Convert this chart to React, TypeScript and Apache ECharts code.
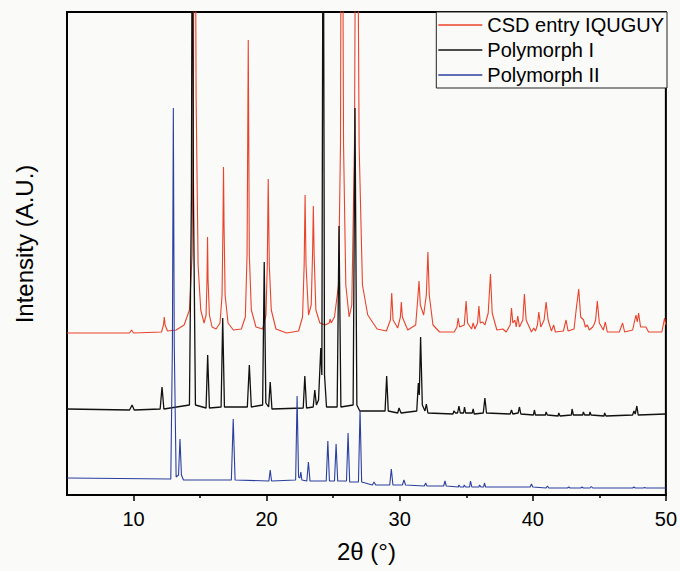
import React, { useEffect, useRef } from "react";
import * as echarts from "echarts";

const seriesNames = ["CSD entry IQUGUY", "Polymorph I", "Polymorph II"];
const xMajorTicks = [10, 20, 30, 40, 50];
const xMinorTicks = [15, 25, 35, 45];

// CSD entry IQUGUY (simulated pattern), offset baseline ~162
const csdPattern: number[][] = [
  [5, 162], [9.7, 162], [9.85, 165], [10.0, 162], [12.1, 163], [12.25, 170], [12.31, 178], [12.37, 170], [12.55, 164],
  [13.2, 165], [13.8, 170], [14.2, 185], [14.4, 240], [14.5, 400], [14.56, 700], [14.62, 700], [14.7, 400], [14.85, 230],
  [15.05, 185], [15.3, 172], [15.45, 180], [15.52, 215], [15.56, 258], [15.6, 215], [15.7, 180], [15.9, 168], [16.2, 166],
  [16.5, 172], [16.65, 200], [16.72, 270], [16.76, 328], [16.8, 270], [16.88, 200], [17.1, 172], [17.5, 165], [18.1, 166],
  [18.4, 178], [18.53, 240], [18.62, 455], [18.7, 240], [18.85, 185], [19.2, 168], [19.7, 166], [19.95, 180], [20.05, 230],
  [20.12, 316], [20.2, 230], [20.35, 185], [20.7, 166], [21.5, 162], [22.4, 164], [22.7, 178], [22.82, 230], [22.89, 300],
  [22.96, 230], [23.15, 180], [23.35, 190], [23.45, 240], [23.51, 289], [23.57, 240], [23.7, 185], [24.0, 172], [24.4, 170],
  [24.7, 172], [24.77, 176], [24.85, 172], [25.1, 178], [25.4, 210], [25.55, 350], [25.62, 700], [25.68, 700], [25.78, 350],
  [25.95, 210], [26.2, 178], [26.4, 190], [26.6, 350], [26.72, 700], [26.8, 700], [26.95, 350], [27.2, 210], [27.6, 180],
  [28.3, 166], [29.0, 164], [29.3, 175], [29.4, 202], [29.5, 175], [29.85, 167], [30.05, 178], [30.12, 193], [30.2, 178],
  [30.6, 165], [31.2, 170], [31.35, 195], [31.45, 214], [31.55, 190], [31.8, 180], [32.0, 200], [32.12, 243], [32.22, 200],
  [32.5, 170], [33.0, 163], [34.1, 163], [34.3, 168], [34.39, 177], [34.5, 168], [34.85, 170], [34.99, 194], [35.1, 172],
  [35.4, 166], [35.52, 172], [35.65, 166], [35.85, 172], [35.95, 189], [36.05, 172], [36.24, 173], [36.4, 170], [36.65, 182],
  [36.82, 221], [36.95, 182], [37.3, 165], [37.75, 166], [38.0, 163], [38.3, 170], [38.4, 187], [38.5, 172], [38.65, 175],
  [38.76, 168], [38.87, 179], [39.0, 168], [39.25, 175], [39.37, 201], [39.5, 175], [39.9, 163], [40.07, 167], [40.2, 164],
  [40.35, 170], [40.45, 183], [40.6, 168], [40.85, 175], [41.0, 193], [41.15, 175], [41.4, 164], [41.57, 170], [41.7, 163],
  [42.3, 164], [42.5, 175], [42.65, 164], [43.1, 166], [43.3, 190], [43.35, 195], [43.45, 206], [43.6, 178], [43.82, 175],
  [43.95, 168], [44.1, 170], [44.25, 165], [44.5, 168], [44.62, 171], [44.72, 175], [44.85, 194], [45.0, 172], [45.3, 165],
  [45.45, 173], [45.6, 163], [46.5, 163], [46.75, 172], [46.9, 163], [47.5, 165], [47.75, 180], [47.85, 173], [47.95, 182],
  [48.1, 168], [48.5, 168], [48.7, 163], [49.7, 163], [49.9, 177], [50, 170],
];

// Polymorph I (measured), offset baseline ~85
const polymorph1: number[][] = [
  [5, 86], [9.7, 85], [9.89, 90], [10.05, 85], [12.0, 86], [12.14, 108], [12.28, 86], [14.2, 90], [14.35, 300], [14.42, 700],
  [14.5, 300], [14.65, 90], [15.45, 87], [15.57, 140], [15.7, 87], [16.58, 88], [16.7, 177], [16.83, 88], [18.55, 88],
  [18.7, 130], [18.85, 88], [19.7, 90], [19.82, 233], [19.94, 92], [20.15, 88], [20.27, 113], [20.4, 86], [22.75, 87],
  [22.87, 119], [23.0, 87], [23.5, 88], [23.62, 105], [23.74, 90], [23.9, 95], [24.07, 147], [24.15, 120], [24.25, 700],
  [24.35, 120], [24.5, 88], [25.3, 88], [25.44, 269], [25.58, 88], [26.5, 90], [26.64, 387], [26.78, 90], [27, 84],
  [28.9, 84], [29.02, 119], [29.14, 84], [29.85, 82], [29.95, 87], [30.1, 82], [31.28, 84], [31.4, 112], [31.47, 100],
  [31.57, 158], [31.7, 90], [31.9, 84], [32.0, 91], [32.12, 82], [34.0, 81], [34.07, 84], [34.2, 82], [34.35, 82],
  [34.45, 89], [34.55, 82], [34.8, 82], [34.87, 88], [34.95, 82], [35.45, 82], [35.52, 86], [35.6, 81], [36.28, 82],
  [36.4, 97], [36.52, 82], [38.3, 81], [38.4, 85], [38.5, 81], [38.9, 82], [39.0, 88], [39.1, 81], [40.05, 80], [40.12, 85],
  [40.2, 80], [40.95, 80], [41.0, 83], [41.1, 80], [41.9, 79], [41.95, 82], [42.05, 79], [42.9, 80], [42.95, 86], [43.05, 80],
  [43.75, 80], [43.8, 83], [43.9, 80], [44.25, 80], [44.3, 83], [44.38, 80], [45.35, 79], [45.4, 82], [45.5, 79], [47.5, 80],
  [47.6, 84], [47.7, 81], [47.82, 89], [47.92, 80], [50, 81],
];

// Polymorph II (measured), offset baseline ~15
const polymorph2: number[][] = [
  [5, 17], [12.8, 16], [12.92, 150], [12.99, 387], [13.06, 150], [13.2, 18], [13.38, 20], [13.49, 56], [13.6, 20], [13.75, 15],
  [17.35, 15], [17.49, 76], [17.63, 15], [20.17, 14], [20.27, 25], [20.37, 14], [22.18, 15], [22.29, 99], [22.4, 18],
  [22.5, 17], [22.57, 23], [22.65, 15], [23.02, 14], [23.14, 33], [23.26, 14], [24.48, 14], [24.6, 54], [24.72, 14],
  [25.1, 14], [25.22, 51], [25.34, 14], [26.0, 14], [26.12, 62], [26.24, 13], [26.9, 13], [27.02, 85], [27.14, 13],
  [27.95, 10], [28.07, 13], [28.2, 10], [29.25, 10], [29.37, 26], [29.49, 10], [30.2, 10], [30.32, 15], [30.44, 10],
  [31.85, 9], [31.95, 12], [32.05, 9], [33.3, 9], [33.4, 14], [33.5, 9], [34.4, 8], [34.45, 10], [34.55, 8], [34.8, 8],
  [34.85, 10], [34.95, 8], [35.25, 8], [35.32, 14], [35.42, 8], [35.95, 8], [36.0, 10], [36.1, 8], [36.3, 8], [36.37, 12],
  [36.45, 8], [39.8, 8], [39.9, 11], [40.0, 8], [41.0, 7], [41.1, 9], [41.2, 7], [42.6, 7], [42.7, 8], [42.8, 7], [43.6, 7],
  [43.7, 8], [43.8, 7], [44.3, 7], [44.4, 8.5], [44.5, 7], [47.5, 7], [47.6, 8], [47.7, 7], [48.3, 7], [48.4, 7.5],
  [48.5, 7], [50, 7],
];

const seriesData = [csdPattern, polymorph1, polymorph2];
const seriesColors = ["#e8432b", "#111111", "#2b3f9f"];

const FONT = "Liberation Sans, Arial, sans-serif";

export default function App() {
  const ref = useRef<HTMLDivElement>(null);
  useEffect(() => {
    if (!ref.current) return;
    const chart = echarts.init(ref.current, undefined, { renderer: "svg" });
    chart.setOption({
      animation: false,
      backgroundColor: "#fafaf8",
      grid: {
        left: 67,
        right: 13,
        top: 12,
        bottom: 76,
        show: true,
        borderColor: "#000",
        borderWidth: 2,
        backgroundColor: "transparent",
      },
      legend: {
        data: seriesNames,
        orient: "vertical",
        right: 13,
        top: 12,
        icon: "rect",
        itemWidth: 44,
        itemHeight: 1.5,
        itemGap: 5,
        padding: [3, 3, 3, 2],
        borderColor: "#222",
        borderWidth: 1,
        backgroundColor: "#fafaf8",
        textStyle: { fontSize: 20, color: "#000", fontFamily: FONT },
      },
      xAxis: [
        {
          type: "value",
          min: 5,
          max: 50,
          position: "bottom",
          axisLine: { show: true, onZero: false, lineStyle: { color: "#000", width: 2 } },
          axisTick: { show: true, customValues: xMajorTicks, length: 6, lineStyle: { color: "#000", width: 1.5 } },
          axisLabel: { show: true, customValues: xMajorTicks, fontSize: 20, color: "#000", margin: 14, fontFamily: FONT },
          splitLine: { show: false },
          name: "2θ (°)",
          nameLocation: "middle",
          nameGap: 44,
          nameTextStyle: { fontSize: 24, color: "#000", fontFamily: FONT },
        },
        {
          type: "value",
          min: 5,
          max: 50,
          position: "bottom",
          axisLine: { show: false, onZero: false },
          axisTick: { show: true, customValues: xMinorTicks, length: 3, lineStyle: { color: "#000", width: 1.5 } },
          axisLabel: { show: false },
          splitLine: { show: false },
        },
      ],
      yAxis: {
        type: "value",
        min: 0,
        max: 483,
        axisLine: { show: true, onZero: false, lineStyle: { color: "#000", width: 2 } },
        axisTick: { show: false },
        axisLabel: { show: false },
        splitLine: { show: false },
      },
      graphic: [
        {
          type: "text",
          x: 24,
          y: 244,
          rotation: Math.PI / 2,
          style: {
            text: "Intensity (A.U.)",
            fontSize: 24,
            fontFamily: FONT,
            fill: "#000",
            align: "center",
            verticalAlign: "middle",
          },
        },
      ],
      series: seriesNames.map((name, i) => ({
        name,
        type: "line",
        xAxisIndex: 0,
        data: seriesData[i],
        showSymbol: false,
        symbol: "none",
        clip: true,
        color: seriesColors[i],
        lineStyle: { color: seriesColors[i], width: i === 1 ? 1.3 : 1.1 },
      })),
    });
    return () => chart.dispose();
  }, []);
  return <div ref={ref} style={{ position: "absolute", left: 0, top: 0, width: 680, height: 571 }} />;
}
